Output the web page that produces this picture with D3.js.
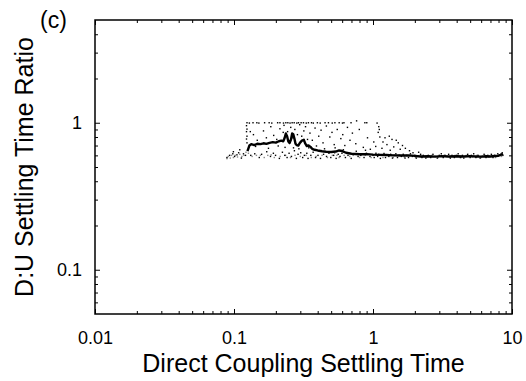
<!DOCTYPE html>
<html>
<head>
<meta charset="utf-8">
<script src="https://cdn.jsdelivr.net/npm/d3@7"></script>
<style>
  html, body { margin: 0; padding: 0; background: #fff; }
  svg { display: block; }
  text { font-family: "Liberation Sans", Arial, Helvetica, sans-serif; fill: #000; }
</style>
</head>
<body>
<svg id="chart" width="526" height="381"></svg>
<script>
// ---------- data ----------
const xMajorTicks = [0.01, 0.1, 1, 10];
const xTickLabels = ["0.01", "0.1", "1", "10"];
const yMajorTicks = [0.1, 1];
const yTickLabels = ["0.1", "1"];
const xDomain = [0.01, 10];
const yDomain = [0.05, 5];

// running average (thick line)
const avgLine = [
  [0.125,0.64],[0.127,0.67],[0.129,0.70],[0.133,0.715],[0.14,0.705],[0.147,0.72],[0.155,0.715],
  [0.163,0.725],[0.171,0.718],[0.18,0.73],[0.19,0.738],[0.2,0.732],[0.21,0.748],[0.219,0.755],
  [0.226,0.748],[0.231,0.785],[0.236,0.845],[0.241,0.81],[0.246,0.745],[0.251,0.728],[0.257,0.77],
  [0.262,0.845],[0.267,0.835],[0.272,0.78],[0.277,0.72],[0.283,0.705],[0.29,0.70],[0.298,0.73],
  [0.308,0.755],[0.318,0.765],[0.326,0.72],[0.334,0.695],[0.344,0.70],[0.355,0.685],[0.365,0.665],
  [0.38,0.655],[0.4,0.648],[0.43,0.64],[0.46,0.635],[0.5,0.632],[0.54,0.637],[0.57,0.648],
  [0.6,0.642],[0.64,0.625],[0.7,0.615],[0.8,0.61],[0.9,0.612],[1.0,0.607],[1.1,0.605],
  [1.25,0.603],[1.4,0.6],[1.6,0.598],[1.8,0.6],[2.0,0.595],[2.2,0.59],[2.5,0.592],[2.8,0.588],
  [3.1,0.593],[3.5,0.59],[4.0,0.592],[4.5,0.589],[5.0,0.593],[5.5,0.59],[6.0,0.588],[6.5,0.592],
  [7.0,0.59],[7.5,0.594],[8.0,0.597],[8.3,0.605],[8.6,0.615]
];

// individual runs (black dots)
const dotsBlack = [
  // top row near ratio 1
  [0.124,1.0],[0.129,0.995],[0.137,1.0],[0.146,1.0],[0.151,0.995],[0.166,1.0],[0.179,1.0],
  [0.187,0.995],[0.206,1.0],[0.214,1.0],[0.227,0.995],[0.236,1.0],[0.244,1.0],[0.253,0.995],
  [0.262,1.0],[0.271,1.0],[0.283,0.995],[0.291,1.0],[0.304,1.0],[0.316,1.0],[0.331,0.995],
  [0.343,1.0],[0.361,1.0],[0.372,0.995],[0.398,1.0],[0.417,0.995],[0.452,1.0],[0.478,1.0],
  [0.509,0.995],[0.532,1.0],[0.571,1.0],[0.603,0.995],[0.618,1.0],[0.695,1.0],[0.762,1.03],
  [0.874,1.0],[0.902,1.0],[1.07,0.995],
  // left column
  [0.123,0.955],[0.124,0.905],[0.123,0.87],[0.124,0.81],[0.123,0.775],[0.124,0.73],
  // right column and descending cloud
  [1.1,0.94],[1.11,0.9],[1.09,0.86],[1.12,0.8],[1.22,0.79],[1.31,0.81],[1.37,0.77],
  [1.47,0.76],[1.52,0.73],[1.63,0.7],[1.71,0.67],[1.83,0.645],[1.26,0.71],[1.41,0.685],
  [1.57,0.66],[1.94,0.625],[1.16,0.67],[1.33,0.65],[2.13,0.63],[1.18,0.74],
  // scatter above the line
  [0.131,0.87],[0.138,0.83],[0.147,0.76],[0.163,0.88],[0.171,0.79],[0.184,0.94],[0.193,0.82],
  [0.203,0.77],[0.214,0.91],[0.226,0.86],[0.229,0.96],[0.243,0.87],[0.256,0.93],[0.262,0.79],
  [0.274,0.9],[0.286,0.83],[0.297,0.97],[0.307,0.81],[0.318,0.88],[0.327,0.94],[0.338,0.77],
  [0.352,0.85],[0.366,0.76],[0.383,0.92],[0.407,0.81],[0.423,0.89],[0.437,0.73],[0.462,0.95],
  [0.489,0.8],[0.507,0.86],[0.526,0.71],[0.553,0.9],[0.587,0.78],[0.606,0.83],[0.627,0.7],
  [0.655,0.93],[0.683,0.76],[0.711,0.85],[0.752,0.72],[0.797,0.9],[0.852,0.68],[0.913,0.79],
  [0.957,0.66],[1.013,0.74],[1.046,0.69],[0.143,0.69],[0.177,0.67],[0.208,0.695],[0.233,0.68],
  [0.268,0.675],[0.293,0.665],[0.345,0.675],[0.392,0.695],[0.448,0.665],[0.534,0.675],[0.612,0.655],
  [0.758,0.64],[0.883,0.65],
  // band near the line, left part
  [0.089,0.58],[0.093,0.6],[0.098,0.615],[0.101,0.59],[0.105,0.605],[0.108,0.625],[0.113,0.575],
  [0.117,0.615],[0.121,0.6],[0.099,0.635],[0.11,0.655],
  [0.132,0.6],[0.141,0.615],[0.152,0.58],[0.158,0.61],[0.172,0.635],[0.183,0.59],[0.192,0.62],
  [0.199,0.6],[0.212,0.572],[0.223,0.63],[0.232,0.6],[0.241,0.58],[0.249,0.62],[0.259,0.59],
  [0.272,0.645],[0.281,0.572],[0.289,0.61],[0.302,0.625],[0.312,0.58],[0.321,0.6],[0.334,0.62],
  [0.341,0.572],[0.357,0.6],[0.371,0.63],[0.386,0.58],[0.402,0.6],[0.419,0.572],[0.441,0.61],
  [0.463,0.59],[0.482,0.62],[0.497,0.58],[0.521,0.6],[0.543,0.572],[0.562,0.61],[0.579,0.59],
  [0.598,0.62],[0.633,0.58],[0.661,0.6],[0.697,0.572],[0.741,0.61],[0.781,0.59],[0.817,0.6],
  [0.862,0.58],[0.897,0.62],[0.951,0.59],
  // band, right part
  [1.0,0.6],[1.02,0.58],[1.05,0.62],[1.08,0.59],[1.1,0.61],[1.13,0.572],[1.16,0.6],
  [1.2,0.618],[1.23,0.58],[1.26,0.6],[1.3,0.59],[1.34,0.61],[1.38,0.575],[1.42,0.6],
  [1.46,0.615],[1.5,0.58],[1.55,0.6],[1.6,0.59],[1.65,0.61],[1.7,0.575],[1.75,0.6],
  [1.8,0.58],[1.86,0.615],[1.92,0.59],[2.0,0.6],[2.05,0.575],[2.1,0.59],[2.2,0.61],
  [2.25,0.58],[2.3,0.6],[2.4,0.575],[2.5,0.6],[2.6,0.58],[2.7,0.61],[2.8,0.59],
  [2.9,0.575],[3.0,0.6],[3.1,0.615],[3.2,0.58],[3.3,0.6],[3.4,0.59],[3.5,0.61],
  [3.6,0.575],[3.7,0.6],[3.85,0.58],[4.0,0.6],[4.1,0.615],[4.25,0.58],[4.4,0.6],
  [4.5,0.575],[4.65,0.59],[4.8,0.61],[5.0,0.58],[5.1,0.6],[5.3,0.615],[5.5,0.58],
  [5.7,0.6],[5.9,0.575],[6.1,0.59],[6.3,0.61],[6.5,0.58],[6.7,0.6],[6.9,0.59],
  [7.1,0.61],[7.3,0.58],[7.5,0.6],[7.7,0.59],[7.9,0.615],[8.1,0.6],[8.3,0.61],
  [8.5,0.625],[8.6,0.6]
];

// individual runs (grey dots)
const dotsGrey = [
  [0.089,0.57],[0.091,0.59],[0.094,0.575],[0.096,0.6],[0.099,0.58],[0.102,0.6],[0.106,0.585],
  [0.11,0.61],[0.114,0.59],[0.118,0.6],[0.122,0.63],[0.127,0.62],[0.135,0.59],[0.145,0.6],
  [0.155,0.6],[0.165,0.58],[0.175,0.6],[0.185,0.605],[0.195,0.58],[0.215,0.59],[0.235,0.6],
  [0.255,0.58],[0.275,0.6],[0.3,0.59],[0.33,0.6],[0.36,0.58],[0.39,0.59],[0.43,0.6],
  [0.47,0.58],[0.51,0.6],[0.53,0.62],[0.55,0.6],[0.57,0.58],[0.62,0.6],[0.68,0.59],
  [0.72,0.6],[0.8,0.58],[0.88,0.6],[0.97,0.58],[1.07,0.6],[1.18,0.58],[1.28,0.6],
  [1.4,0.58],[1.53,0.6],[1.68,0.585],[1.84,0.6],[2.02,0.58],[2.2,0.6],[2.45,0.585],
  [2.65,0.6],[2.95,0.58],[3.25,0.6],[3.55,0.585],[3.9,0.6],[4.3,0.58],[4.7,0.6],
  [5.2,0.585],[5.6,0.6],[6.0,0.58],[6.4,0.6],[6.8,0.585],[7.2,0.6],[7.6,0.58],[8.0,0.6],[8.4,0.59]
];

// ---------- layout ----------
const svg = d3.select("#chart");
const M = { left: 95, right: 512, top: 20, bottom: 314 };
const x = d3.scaleLog().domain(xDomain).range([M.left, M.right]);
const y = d3.scaleLog().domain(yDomain).range([M.bottom, M.top]);

function minorTicks(domain) {
  const out = [];
  for (let e = -3; e <= 2; e++) {
    for (let k = 2; k <= 9; k++) {
      const v = +(k * Math.pow(10, e)).toPrecision(6);
      if (v > domain[0] * 1.0001 && v < domain[1] * 0.9999) out.push(v);
    }
  }
  return out;
}
const xMinor = minorTicks(xDomain);
const yMinor = minorTicks(yDomain);

const labelFont = 18;

function addAxis(axis, tx, ty, keepText) {
  const g = svg.append("g").attr("transform", `translate(${tx},${ty})`).call(axis);
  g.select(".domain").remove();
  if (!keepText) g.selectAll(".tick text").remove();
  return g;
}

addAxis(d3.axisBottom(x).tickValues(xMajorTicks).tickFormat((d, i) => xTickLabels[i])
  .tickSizeInner(-5).tickSizeOuter(0).tickPadding(17), 0, M.bottom, true);
addAxis(d3.axisBottom(x).tickValues(xMinor).tickSizeInner(-3).tickSizeOuter(0), 0, M.bottom, false);
addAxis(d3.axisTop(x).tickValues(xMajorTicks).tickSizeInner(-5).tickSizeOuter(0), 0, M.top, false);
addAxis(d3.axisTop(x).tickValues(xMinor).tickSizeInner(-3).tickSizeOuter(0), 0, M.top, false);

addAxis(d3.axisLeft(y).tickValues(yMajorTicks).tickFormat((d, i) => yTickLabels[i])
  .tickSizeInner(-5).tickSizeOuter(0).tickPadding(13), M.left, 0, true);
addAxis(d3.axisLeft(y).tickValues(yMinor).tickSizeInner(-3).tickSizeOuter(0), M.left, 0, false);
addAxis(d3.axisRight(y).tickValues(yMajorTicks).tickSizeInner(-5).tickSizeOuter(0), M.right, 0, false);
addAxis(d3.axisRight(y).tickValues(yMinor).tickSizeInner(-3).tickSizeOuter(0), M.right, 0, false);

svg.selectAll(".tick line").attr("stroke", "#000").attr("stroke-width", 1);
svg.selectAll(".tick text").attr("font-size", labelFont)
  .attr("font-family", '"Liberation Sans", Arial, Helvetica, sans-serif').attr("fill", "#000");

// frame
svg.append("rect")
  .attr("x", M.left).attr("y", M.top)
  .attr("width", M.right - M.left).attr("height", M.bottom - M.top)
  .attr("fill", "none").attr("stroke", "#000").attr("stroke-width", 1.5);

// dots
svg.append("g").selectAll("rect").data(dotsGrey).join("rect")
  .attr("x", d => x(d[0]) - 0.7).attr("y", d => y(d[1]) - 0.7)
  .attr("width", 1.4).attr("height", 1.4).attr("fill", "#8a8a8a");
svg.append("g").selectAll("rect").data(dotsBlack).join("rect")
  .attr("x", d => x(d[0]) - 0.7).attr("y", d => y(d[1]) - 0.7)
  .attr("width", 1.4).attr("height", 1.4).attr("fill", "#000");

// running average line
svg.append("path").datum(avgLine)
  .attr("fill", "none").attr("stroke", "#000").attr("stroke-width", 2.4)
  .attr("stroke-linejoin", "round")
  .attr("d", d3.line().x(d => x(d[0])).y(d => y(d[1])));

// titles
svg.append("text")
  .attr("x", (M.left + M.right) / 2).attr("y", 372)
  .attr("text-anchor", "middle").attr("font-size", 25)
  .text("Direct Coupling Settling Time");
svg.append("text")
  .attr("transform", `translate(33,${(M.top + M.bottom) / 2}) rotate(-90)`)
  .attr("text-anchor", "middle").attr("font-size", 25)
  .text("D:U Settling Time Ratio");
svg.append("text")
  .attr("x", 40).attr("y", 28).attr("font-size", 23)
  .text("(c)");
</script>
</body>
</html>
